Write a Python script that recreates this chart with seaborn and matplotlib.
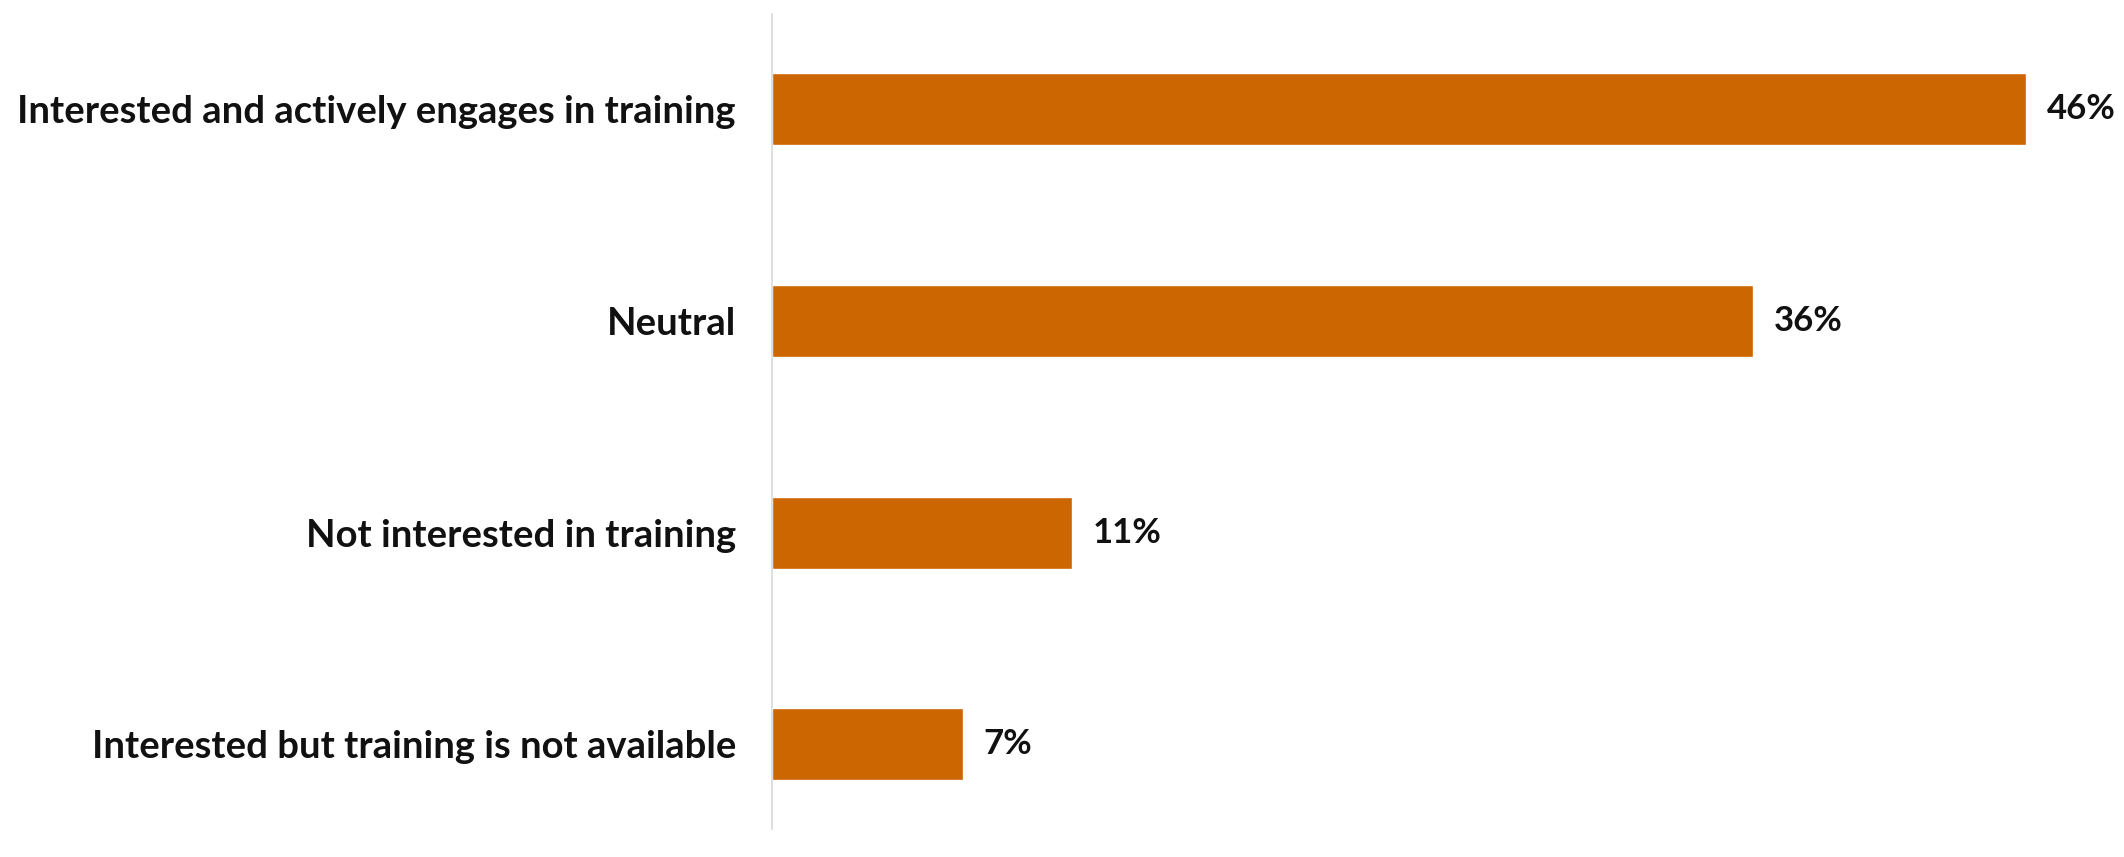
import matplotlib
matplotlib.use("Agg")
import matplotlib.pyplot as plt
import seaborn as sns
import pandas as pd

categories = [
    "Interested and actively engages in training",
    "Neutral",
    "Not interested in training",
    "Interested but training is not available",
]
values = [46, 36, 11, 7]
value_labels = ["46%", "36%", "11%", "7%"]

bar_color = "#CC6600"

sns.set_theme(style="white")
plt.rcParams["font.family"] = ["Lato", "DejaVu Sans"]

df = pd.DataFrame({"category": categories, "value": values})

fig = plt.figure(figsize=(21.24, 8.57), dpi=100)
ax = fig.add_axes([0.3635, 0.0327, 0.6365, 0.951])

sns.barplot(data=df, x="value", y="category", orient="h", color=bar_color,
            saturation=1, width=0.34, ax=ax)

ax.set_xlim(0, 49.6)
ax.set_ylim(3.40, -0.45)
ax.set_xlabel("")
ax.set_ylabel("")
ax.set_xticks([])

for side in ("top", "right", "bottom"):
    ax.spines[side].set_visible(False)
ax.spines["left"].set_color("#D9D9D9")
ax.spines["left"].set_linewidth(1.2)

ax.tick_params(axis="y", length=0, pad=26)
for lbl in ax.get_yticklabels():
    lbl.set_fontsize(27.5)
    lbl.set_fontweight("bold")
    lbl.set_color("#111111")

ax.bar_label(ax.containers[0], labels=value_labels, padding=15,
             fontsize=25, fontweight="bold", color="#111111")

fig.savefig("out.png", dpi=100, facecolor="white")
